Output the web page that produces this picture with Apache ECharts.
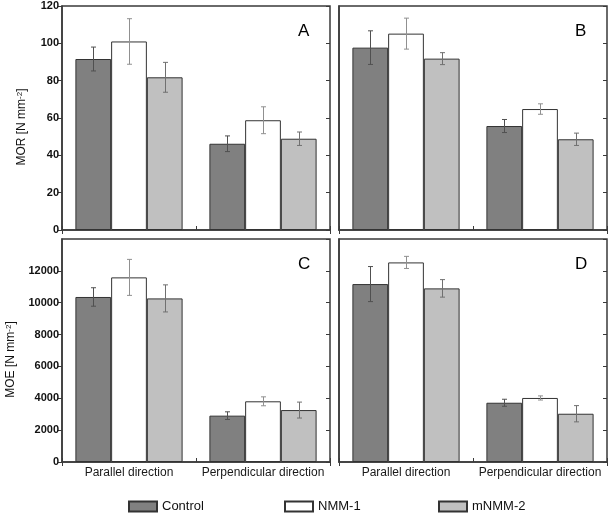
<!DOCTYPE html>
<html>
<head>
    <meta charset="utf-8" />
    <title>MOR / MOE</title>
    <script src="https://cdn.jsdelivr.net/npm/echarts@6/dist/echarts.min.js"></script>
    <style>
        html, body { margin: 0; padding: 0; background: #fff; }
        #chart { width: 610px; height: 514px; }
    </style>
</head>
<body>
    <div id="chart"></div>
</body>
</html>
<script>
    // categories and groups
    var categories = ['Parallel direction', 'Perpendicular direction'];
    var groups = ['Control', 'NMM-1', 'mNMM-2'];

    // rows: Control, NMM-1, mNMM-2 ; columns: parallel, perpendicular
    var morA_mean = [[91.6, 46.2], [101.0, 58.8], [81.8, 48.9]];
    var morA_err = [[6.4, 4.2], [12.2, 7.2], [8.0, 3.6]];
    var morB_mean = [[97.7, 55.7], [105.2, 64.8], [91.8, 48.6]];
    var morB_err = [[9.0, 3.5], [8.3, 2.8], [3.2, 3.3]];
    var moeC_mean = [[10360, 2910], [11590, 3810], [10270, 3260]];
    var moeC_err = [[580, 240], [1130, 280], [850, 500]];
    var moeD_mean = [[11170, 3720], [12530, 4020], [10900, 3030]];
    var moeD_err = [[1100, 220], [380, 130], [550, 510]];

    var morTicks = { min: 0, max: 120, interval: 20 };
    var moeTicks = { min: 0, max: 14000, interval: 2000 };

    var fillColors = ['#808080', '#ffffff', '#c0c0c0'];
    var errColors = ['#505050', '#909090', '#707070'];
    var frame = '#3a3a3a';
    var font = 'Liberation Sans, Arial, sans-serif';

    var panels = [
        { letter: 'A', mean: morA_mean, err: morA_err, ticks: morTicks, name: 'MOR', left: 62, top: 6, height: 224, labels: true, nameGap: 34 },
        { letter: 'B', mean: morB_mean, err: morB_err, ticks: morTicks, name: 'MOR', left: 339, top: 6, height: 224, labels: false },
        { letter: 'C', mean: moeC_mean, err: moeC_err, ticks: moeTicks, name: 'MOE', left: 62, top: 239, height: 223, labels: true, nameGap: 45 },
        { letter: 'D', mean: moeD_mean, err: moeD_err, ticks: moeTicks, name: 'MOE', left: 339, top: 239, height: 223, labels: false }
    ];

    var myChart = echarts.init(document.getElementById('chart'));

    var grids = [], xAxes = [], yAxes = [], series = [], letters = [];

    // error bar drawn over each bar, shifted to the bar's slot in the category
    function errRender(idx) {
        return function (params, api) {
            var cat = api.value(0), m = api.value(1), e = api.value(2);
            var band = api.size([1, 0])[0];
            var bw = band * 0.8 / 3;
            var x = Math.round(api.coord([cat, m])[0] + (idx - 1) * bw) + 0.5;
            var yt = api.coord([cat, m + e])[1];
            var yb = api.coord([cat, m - e])[1];
            var c = 2.5;
            var st = { stroke: errColors[idx], lineWidth: 1 };
            return {
                type: 'group',
                children: [
                    { type: 'line', shape: { x1: x, y1: yt, x2: x, y2: yb }, style: st },
                    { type: 'line', shape: { x1: x - c, y1: yt, x2: x + c, y2: yt }, style: st },
                    { type: 'line', shape: { x1: x - c, y1: yb, x2: x + c, y2: yb }, style: st }
                ]
            };
        };
    }

    panels.forEach(function (p, g) {
        grids.push({
            left: p.left, top: p.top, width: 268, height: p.height,
            show: true, borderColor: frame, borderWidth: 1.5, backgroundColor: 'transparent'
        });
        xAxes.push({
            type: 'category', gridIndex: g, data: categories, position: 'bottom',
            axisLine: { show: true, lineStyle: { color: frame, width: 1.5 } },
            axisTick: { show: true, inside: true, length: 4, lineStyle: { color: frame } },
            axisLabel: {
                show: g >= 2, interval: 0, color: '#1a1a1a', fontSize: 12, margin: 5,
                fontFamily: font
            }
        });
        xAxes.push({
            type: 'category', gridIndex: g, data: categories, position: 'top',
            axisLine: { show: false },
            axisTick: { show: true, inside: true, length: 4, lineStyle: { color: frame } },
            axisLabel: { show: false }
        });
        yAxes.push({
            type: 'value', gridIndex: g, position: 'left',
            min: p.ticks.min, max: p.ticks.max, interval: p.ticks.interval,
            splitLine: { show: false },
            axisLine: { show: true, lineStyle: { color: frame, width: 1.5 } },
            axisTick: { show: p.labels, inside: false, length: 4, lineStyle: { color: frame } },
            axisLabel: {
                show: p.labels, color: '#111', fontSize: 11, margin: 3, fontWeight: 'bold',
                fontFamily: font,
                formatter: function (v) { return String(v); },
                showMaxLabel: p.ticks.max === 120
            },
            name: p.labels ? '{a|' + p.name + ' [N mm}{s|-2}{a|]}' : '',
            nameLocation: 'middle',
            nameGap: p.nameGap || 30,
            nameRotate: 90,
            nameTextStyle: {
                padding: [0, 18, 0, 0],
                rich: {
                    a: { fontSize: 12, color: '#111', fontFamily: font, verticalAlign: 'bottom' },
                    s: { fontSize: 8, color: '#111', fontFamily: font, verticalAlign: 'top' }
                }
            }
        });
        yAxes.push({
            type: 'value', gridIndex: g, position: 'right',
            min: p.ticks.min, max: p.ticks.max, interval: p.ticks.interval,
            splitLine: { show: false },
            axisLine: { show: false },
            axisTick: { show: true, inside: true, length: 4, lineStyle: { color: frame } },
            axisLabel: { show: false }
        });

        groups.forEach(function (name, i) {
            series.push({
                name: name, type: 'bar', xAxisIndex: 2 * g, yAxisIndex: 2 * g,
                data: p.mean[i],
                barCategoryGap: '20%', barGap: '0%',
                itemStyle: { color: fillColors[i], borderColor: '#333', borderWidth: 1 },
                emphasis: { disabled: true }
            });
        });
        groups.forEach(function (name, i) {
            series.push({
                name: name + ' err', type: 'custom', xAxisIndex: 2 * g, yAxisIndex: 2 * g,
                data: p.mean[i].map(function (m, k) { return [k, m, p.err[i][k]]; }),
                encode: { x: 0, y: 1 },
                renderItem: errRender(i),
                z: 5, silent: true
            });
        });

        letters.push({
            type: 'text', left: p.left + 236, top: p.top + 17,
            style: { text: p.letter, fontSize: 17, fill: '#000', fontFamily: font }
        });
    });

    var legendLefts = [128, 284, 438];
    var legends = groups.map(function (name, i) {
        return {
            data: [{ name: name, icon: 'rect' }], left: legendLefts[i], top: 500, padding: 0,
            itemWidth: 28, itemHeight: 10, itemGap: 5,
            selectedMode: false,
            textStyle: { fontSize: 13, color: '#111', fontFamily: font }
        };
    });

    var option = {
        animation: false,
        backgroundColor: '#fff',
        grid: grids,
        xAxis: xAxes,
        yAxis: yAxes,
        legend: legends,
        series: series,
        graphic: letters
    };

    myChart.setOption(option);
</script>
